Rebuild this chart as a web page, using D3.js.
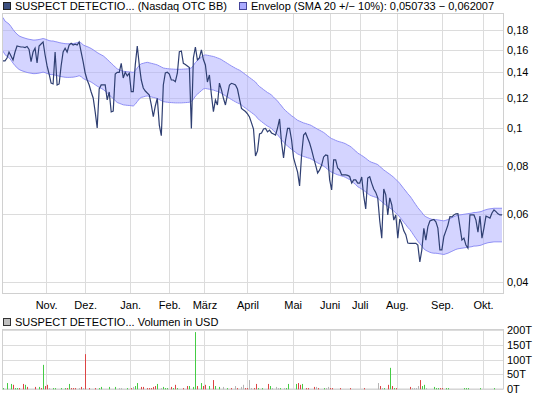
<!DOCTYPE html>
<html>
<head>
<meta charset="utf-8">
<script src="https://cdn.jsdelivr.net/npm/d3@7"></script>
<style>
  body { margin: 0; background: #fff; }
  text { font-family: "Liberation Sans", Arial, sans-serif; font-size: 11px; fill: #000; }
</style>
</head>
<body>
<script>
// month labels and where each month starts (trading day index)
var months = ["Nov.", "Dez.", "Jan.", "Feb.", "März", "April", "Mai", "Juni", "Juli", "Aug.", "Sep.", "Okt."];
var monthPos = [21.5, 41, 63.5, 83, 100.5, 122, 144.5, 163, 178, 196.5, 219, 239.5];

var priceTicks = [0.04, 0.06, 0.08, 0.1, 0.12, 0.14, 0.16, 0.18];
var volTicks = [0, 50, 100, 150, 200];

// closing price per trading day
var price = [
  0.1496,0.1496,0.1523,0.1578,0.1541,0.1505,0.1578,0.1636,0.1631,0.1626,
  0.1626,0.1621,0.1631,0.1602,0.1490,0.1578,0.1614,0.1478,0.1636,0.1656,
  0.1676,0.1550,0.1452,0.1384,0.1311,0.1304,0.1578,0.1296,0.1304,0.1452,
  0.1578,0.1614,0.1578,0.1646,0.1663,0.1646,0.1653,0.1646,0.1676,0.1578,
  0.1487,0.1392,0.1335,0.1296,0.1243,0.1199,0.1103,0.1002,0.1265,0.1296,
  0.1296,0.1296,0.1185,0.1243,0.1103,0.1109,0.1384,0.1398,0.1398,0.1475,
  0.1351,0.1398,0.1368,0.1390,0.1245,0.1245,0.1461,0.1636,0.1461,0.1335,
  0.1273,0.1250,0.1235,0.1221,0.1150,0.1072,0.1143,0.1197,0.1020,0.0957,
  0.1296,0.1392,0.1398,0.1384,0.1335,0.1335,0.1322,0.1390,0.1581,0.1588,
  0.1475,0.1465,0.1452,0.1439,0.1000,0.1523,0.1626,0.1505,0.1523,0.1598,
  0.1509,0.1461,0.1319,0.1376,0.1221,0.1105,0.1185,0.1150,0.1311,0.1258,
  0.1197,0.1150,0.1221,0.1296,0.1309,0.1304,0.1296,0.1265,0.1192,0.1127,
  0.1116,0.1106,0.1090,0.1070,0.1033,0.0996,0.0848,0.0874,0.0967,0.0973,
  0.0996,0.1000,0.0979,0.0990,0.0973,0.0967,0.0961,0.1002,0.1058,0.0916,
  0.0838,0.0933,0.1000,0.1000,0.0933,0.0838,0.0803,0.0770,0.0709,0.0853,
  0.0961,0.0973,0.0944,0.0916,0.0879,0.0838,0.0803,0.0766,0.0780,0.0803,
  0.0843,0.0853,0.0850,0.0735,0.0692,0.0828,0.0828,0.0789,0.0780,0.0757,
  0.0757,0.0757,0.0755,0.0750,0.0721,0.0735,0.0735,0.0721,0.0721,0.0748,
  0.0668,0.0618,0.0743,0.0749,0.0720,0.0696,0.0682,0.0660,0.0575,0.0519,
  0.0696,0.0672,0.0596,0.0660,0.0633,0.0578,0.0596,0.0519,0.0582,0.0565,
  0.0542,0.0530,0.0504,0.0503,0.0503,0.0503,0.0503,0.0498,0.0450,0.0484,
  0.0550,0.0513,0.0555,0.0575,0.0578,0.0580,0.0572,0.0551,0.0484,0.0484,
  0.0524,0.0542,0.0561,0.0590,0.0589,0.0596,0.0600,0.0601,0.0556,0.0513,
  0.0519,0.0498,0.0489,0.0596,0.0596,0.0596,0.0578,0.0538,0.0592,0.0519,
  0.0551,0.0592,0.0589,0.0585,0.0603,0.0614,0.0608,0.0600,0.0596,0.0596
];

// SMA 20, the envelope is +/- 10% around it
var sma = [
  0.1763,0.1726,0.1711,0.1696,0.1670,0.1641,0.1616,0.1597,0.1580,0.1571,
  0.1564,0.1558,0.1552,0.1548,0.1545,0.1541,0.1541,0.1543,0.1546,0.1550,
  0.1555,0.1550,0.1543,0.1536,0.1532,0.1532,0.1527,0.1523,0.1518,0.1514,
  0.1511,0.1508,0.1507,0.1507,0.1508,0.1509,0.1512,0.1516,0.1522,0.1514,
  0.1497,0.1488,0.1482,0.1474,0.1465,0.1454,0.1442,0.1430,0.1420,0.1411,
  0.1402,0.1388,0.1373,0.1357,0.1342,0.1327,0.1311,0.1297,0.1291,0.1285,
  0.1279,0.1277,0.1275,0.1274,0.1272,0.1270,0.1284,0.1304,0.1325,0.1337,
  0.1341,0.1346,0.1349,0.1345,0.1341,0.1337,0.1333,0.1328,0.1320,0.1312,
  0.1304,0.1301,0.1299,0.1297,0.1296,0.1295,0.1294,0.1294,0.1294,0.1294,
  0.1295,0.1296,0.1297,0.1299,0.1304,0.1323,0.1347,0.1363,0.1377,0.1392,
  0.1406,0.1410,0.1407,0.1404,0.1400,0.1397,0.1391,0.1385,0.1379,0.1371,
  0.1360,0.1350,0.1340,0.1330,0.1320,0.1311,0.1302,0.1294,0.1287,0.1277,
  0.1265,0.1254,0.1243,0.1232,0.1221,0.1210,0.1199,0.1181,0.1167,0.1157,
  0.1146,0.1136,0.1126,0.1119,0.1109,0.1096,0.1083,0.1070,0.1054,0.1039,
  0.1023,0.1011,0.1000,0.0990,0.0980,0.0972,0.0963,0.0954,0.0949,0.0944,
  0.0939,0.0936,0.0932,0.0929,0.0924,0.0917,0.0911,0.0904,0.0899,0.0893,
  0.0887,0.0879,0.0870,0.0862,0.0855,0.0851,0.0846,0.0842,0.0839,0.0836,
  0.0833,0.0829,0.0823,0.0818,0.0811,0.0802,0.0794,0.0784,0.0779,0.0773,
  0.0767,0.0760,0.0753,0.0746,0.0742,0.0739,0.0736,0.0732,0.0724,0.0717,
  0.0709,0.0703,0.0697,0.0691,0.0685,0.0678,0.0670,0.0663,0.0654,0.0644,
  0.0634,0.0625,0.0615,0.0607,0.0597,0.0586,0.0576,0.0566,0.0558,0.0550,
  0.0541,0.0536,0.0533,0.0530,0.0528,0.0527,0.0527,0.0526,0.0525,0.0524,
  0.0523,0.0525,0.0527,0.0530,0.0533,0.0536,0.0539,0.0541,0.0542,0.0543,
  0.0544,0.0545,0.0546,0.0547,0.0548,0.0550,0.0550,0.0551,0.0552,0.0554,
  0.0557,0.0559,0.0561,0.0562,0.0563,0.0564,0.0564,0.0564,0.0564,0.0564
];

// volume (thousand USD) on the days that traded, u = up, d = down, n = unchanged
var volDay = [
  0,2,4,5,6,7,8,10,11,12,
  16,18,19,20,21,22,23,25,26,29,
  31,32,33,34,35,36,38,39,40,41,
  43,46,48,49,53,56,58,59,62,64,
  65,66,67,69,70,72,73,74,75,76,
  77,79,80,81,82,84,85,86,87,90,
  92,93,95,96,97,99,100,101,103,105,
  106,108,110,112,114,116,117,119,120,121,
  122,123,124,125,126,127,129,132,133,134,
  136,137,138,140,141,142,146,147,148,149,
  151,152,155,156,157,160,161,162,163,164,
  168,173,180,187,188,189,190,192,193,194,
  195,196,203,204,205,206,207,208,209,210,
  211,215,216,217,218,219,221,222,230,231,
  232,238,245
];
var volValue = [
  4,21,18,15,4,4,4,18,15,8,
  8,8,4,82,11,15,4,4,4,4,
  4,4,18,4,4,4,4,8,4,118,
  4,4,4,8,8,8,4,4,4,4,
  8,11,21,8,8,4,4,4,8,11,
  18,4,8,4,4,8,4,15,4,4,
  11,11,8,192,11,21,11,15,11,31,
  11,8,8,4,4,11,4,8,15,4,
  4,31,4,4,18,4,4,18,11,4,
  8,4,4,4,4,18,18,21,15,18,
  4,4,8,8,4,4,4,8,4,4,
  4,4,4,21,11,4,4,15,72,11,
  4,4,8,4,4,4,11,31,11,15,
  4,8,4,4,4,4,4,4,4,4,
  4,4,4
];
var volDir = (
  "uuuduuddud" + "dududdnuuu" + "ududddndnd" + "dduuuunnud" +
  "nuuddddddd" + "unuuududud" + "duuududdud" + "uunudndnnd" +
  "dnndduudun" + "nnunuuuddu" + "dddndunndd" + "dddndnudud" +
  "uddnnnnduu" + "nuuudduuuu" + "uuu"
).split("");

var W = 545, H = 398;
var left = 2, right = 503;
var mainTop = 13, mainBottom = 293;
var volTop = 330, volBottom = 389;

var svg = d3.select("body").append("svg")
    .attr("width", W)
    .attr("height", H);

var x = d3.scaleLinear().domain([0, price.length - 1]).range([3, 502]);
var y = d3.scaleLog().domain([0.04, 0.18]).range([281.7, 30]);
var yv = d3.scaleLinear().domain([0, 200]).range([389.3, 329.7]);

var de = d3.formatLocale({decimal: ",", thousands: ".", grouping: [3], currency: ["", " €"]});
var fmt = de.format("~g");

var gridColor = "#dcdcdc";
var crisp = function(v) { return Math.round(v) + 0.5; };

// ---------- main panel ----------
svg.append("defs").append("clipPath").attr("id", "clipMain")
  .append("rect").attr("x", left).attr("y", mainTop)
  .attr("width", right - left).attr("height", mainBottom - mainTop);

var grid = svg.append("g");
// vertical month lines, both panels
monthPos.forEach(function(p) {
  var gx = crisp(x(p));
  grid.append("line").attr("x1", gx).attr("x2", gx).attr("y1", mainTop).attr("y2", mainBottom)
    .attr("stroke", gridColor);
  grid.append("line").attr("x1", gx).attr("x2", gx).attr("y1", volTop).attr("y2", volBottom)
    .attr("stroke", gridColor);
});
priceTicks.forEach(function(t) {
  var gy = crisp(y(t));
  grid.append("line").attr("x1", left).attr("x2", right).attr("y1", gy).attr("y2", gy)
    .attr("stroke", gridColor);
});
volTicks.forEach(function(t) {
  var gy = crisp(yv(t));
  grid.append("line").attr("x1", left).attr("x2", right).attr("y1", gy).attr("y2", gy)
    .attr("stroke", gridColor);
});

var plot = svg.append("g").attr("clip-path", "url(#clipMain)");

// envelope band
var band = d3.area()
    .x(function(d, i) { return x(i); })
    .y0(function(d) { return y(d * 0.9); })
    .y1(function(d) { return y(d * 1.1); });
plot.append("path")
    .datum(sma)
    .attr("d", band)
    .attr("fill", "#aaaaff")
    .attr("fill-opacity", 0.5);

[1.1, 0.9].forEach(function(f) {
  plot.append("path")
    .datum(sma)
    .attr("d", d3.line().x(function(d, i) { return x(i); }).y(function(d) { return y(d * f); }))
    .attr("fill", "none")
    .attr("stroke", "#8f8ff5")
    .attr("stroke-width", 1);
});

// price line
plot.append("path")
    .datum(price)
    .attr("d", d3.line().x(function(d, i) { return x(i); }).y(function(d) { return y(d); }))
    .attr("fill", "none")
    .attr("stroke", "#2f3f72")
    .attr("stroke-width", 1.2);

// frames
svg.append("rect").attr("x", left + 0.5).attr("y", mainTop + 0.5)
  .attr("width", right - left).attr("height", mainBottom - mainTop)
  .attr("fill", "none").attr("stroke", "#d0d0d0");
svg.append("rect").attr("x", left + 0.5).attr("y", volTop - 0.5)
  .attr("width", right - left).attr("height", volBottom - volTop + 0.5)
  .attr("fill", "none").attr("stroke", "#d0d0d0");

// axes
var yAxis = svg.append("g")
    .attr("transform", "translate(" + right + ",0)")
    .call(d3.axisRight(y).tickValues(priceTicks).tickFormat(fmt).tickSize(0).tickPadding(4));
yAxis.select(".domain").remove();

var xAxis = svg.append("g")
    .attr("transform", "translate(0," + mainBottom + ")")
    .call(d3.axisBottom(x).tickValues(monthPos).tickFormat(function(d, i) { return months[i]; })
      .tickSize(0).tickPadding(8));
xAxis.select(".domain").remove();

var vAxis = svg.append("g")
    .attr("transform", "translate(" + right + ",0)")
    .call(d3.axisRight(yv).tickValues(volTicks).tickFormat(function(d) { return d + "T"; })
      .tickSize(0).tickPadding(4));
vAxis.select(".domain").remove();

svg.selectAll(".tick text")
    .attr("font-family", "Liberation Sans, Arial, sans-serif")
    .attr("font-size", 11)
    .attr("fill", "#000");

// ---------- volume bars ----------
var volColor = {u: "#44cc44", d: "#dd4444", n: "#b4b4b4"};
svg.append("g").selectAll("rect")
    .data(volDay)
    .enter()
    .append("rect")
    .attr("x", function(d) { return Math.round(x(d)); })
    .attr("width", 1)
    .attr("y", function(d, i) { return yv(volValue[i]); })
    .attr("height", function(d, i) { return yv(0) - yv(volValue[i]); })
    .attr("fill", function(d, i) { return volColor[volDir[i]]; });

// ---------- legends ----------
function legend(px, py, fill, stroke, label) {
  svg.append("rect").attr("x", px + 0.5).attr("y", py + 0.5).attr("width", 7).attr("height", 7)
    .attr("fill", fill).attr("stroke", stroke);
  svg.append("text").attr("x", px + 12).attr("y", py + 7.5).text(label);
}
legend(3, 2, "#3d5080", "#222", "SUSPECT DETECTIO... (Nasdaq OTC BB)");
legend(239, 2, "#aaaaff", "#44449a", "Envelop (SMA 20 +/\u2212 10%): 0,050733 \u2212 0,062007");
legend(3, 318, "#c0c0c0", "#333", "SUSPECT DETECTIO... Volumen in USD");
</script>
</body>
</html>
